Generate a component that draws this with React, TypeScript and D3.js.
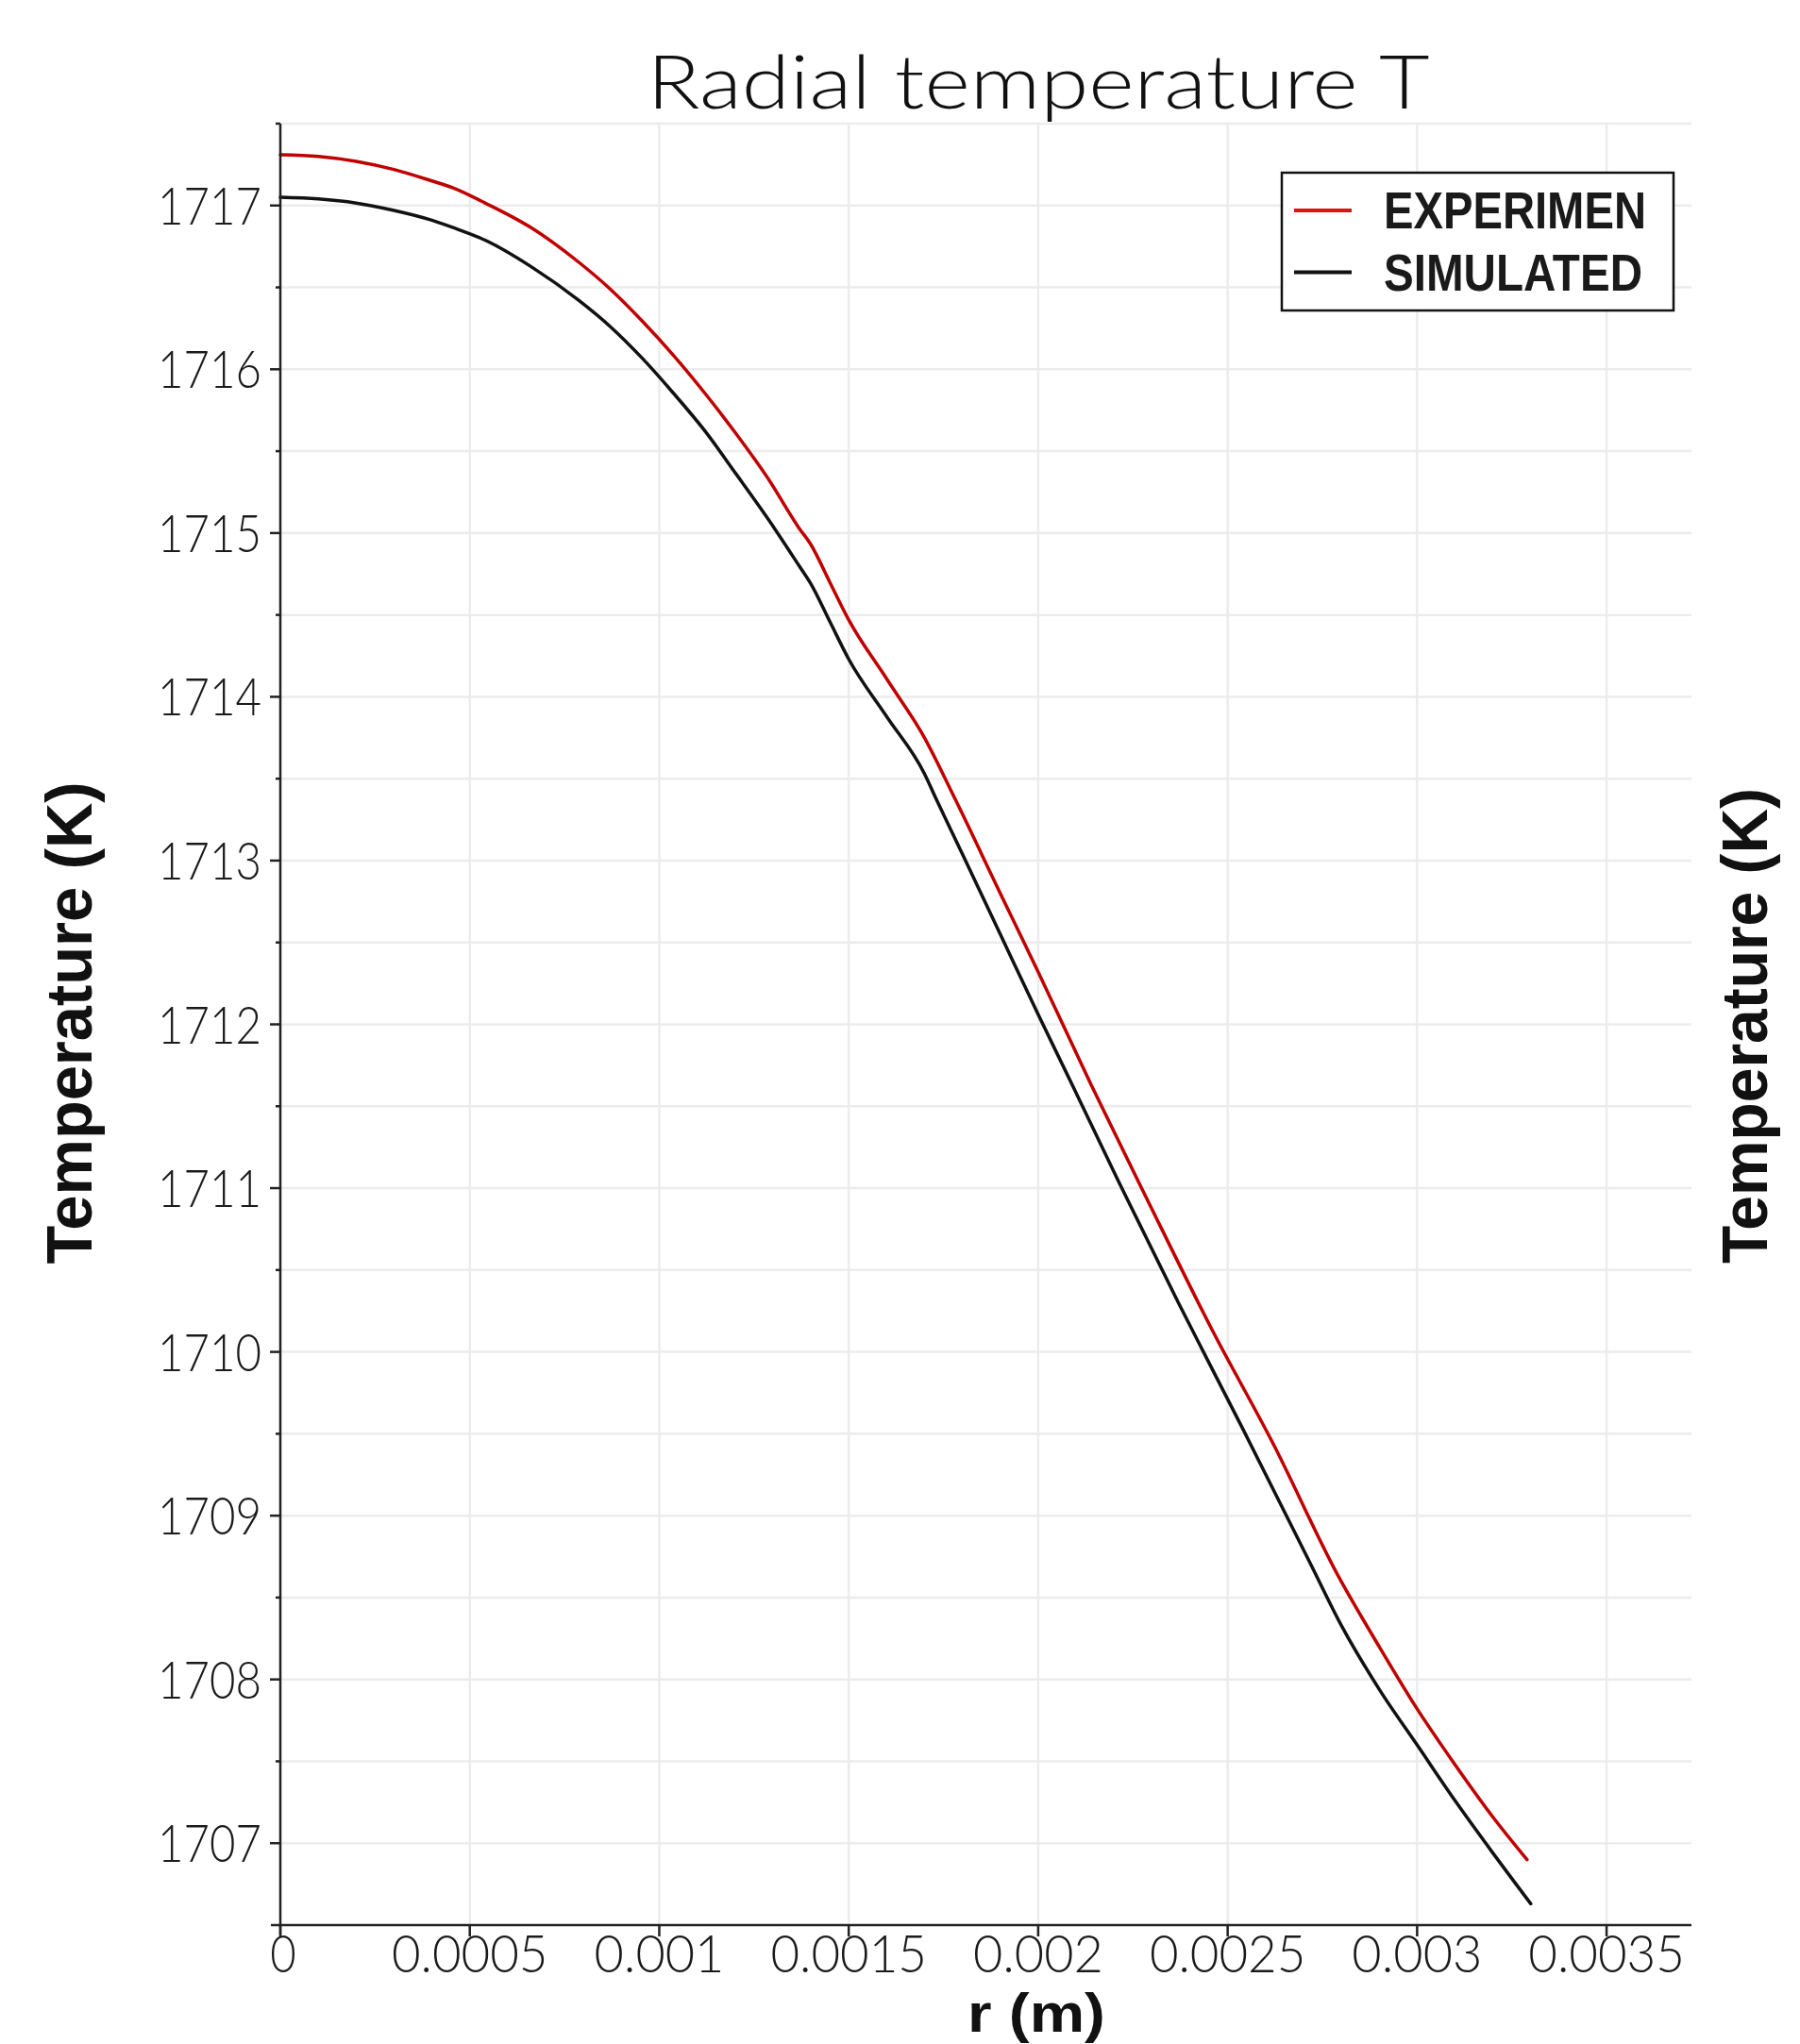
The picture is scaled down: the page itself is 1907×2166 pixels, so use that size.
import React from 'react';
import * as d3 from 'd3';

const W = 1907;
const H = 2166;

// EXPERIMEN curve: radius (m) and temperature (K)
const expR = [0, 0.0001, 0.0002, 0.0003, 0.0004, 0.000456, 0.000539, 0.000663, 0.000788, 0.000871,
  0.000954, 0.001037, 0.00112, 0.001203, 0.001286, 0.001369, 0.0014, 0.00145, 0.0015, 0.0016,
  0.0017, 0.00178, 0.0019, 0.002, 0.00214, 0.00229, 0.00246, 0.00262, 0.00279, 0.0029,
  0.003, 0.0031, 0.0032, 0.00329];
const expT = [1717.31, 1717.30, 1717.27, 1717.22, 1717.15, 1717.108, 1717.017, 1716.863, 1716.653, 1716.489,
  1716.297, 1716.086, 1715.855, 1715.606, 1715.337, 1715.03, 1714.93, 1714.70, 1714.47, 1714.11,
  1713.75, 1713.38, 1712.80, 1712.32, 1711.63, 1710.92, 1710.13, 1709.44, 1708.64, 1708.20,
  1707.82, 1707.48, 1707.16, 1706.90];

// SIMULATED curve
const simR = [0, 0.0001, 0.0002, 0.0003, 0.0004, 0.000456, 0.000539, 0.000663, 0.000788, 0.000871,
  0.000954, 0.001037, 0.00112, 0.001203, 0.001286, 0.001369, 0.0014, 0.00145, 0.0015, 0.0016,
  0.0017, 0.00173, 0.0018, 0.0019, 0.002, 0.00209, 0.00221, 0.00237, 0.00254, 0.00272,
  0.0028, 0.0029, 0.003, 0.0031, 0.0032, 0.0033];
const simT = [1717.05, 1717.04, 1717.015, 1716.97, 1716.91, 1716.865, 1716.79, 1716.625, 1716.42, 1716.26,
  1716.07, 1715.855, 1715.625, 1715.36, 1715.09, 1714.80, 1714.69, 1714.46, 1714.23, 1713.88,
  1713.53, 1713.38, 1713.04, 1712.55, 1712.06, 1711.63, 1711.05, 1710.30, 1709.53, 1708.70,
  1708.33, 1707.94, 1707.60, 1707.26, 1706.94, 1706.63];

const seriesNames = ['EXPERIMEN', 'SIMULATED'];
const seriesColors = ['#c00000', '#111111'];
const legendColors = ['#dd1414', '#111111'];

const xTicks = [0, 0.0005, 0.001, 0.0015, 0.002, 0.0025, 0.003, 0.0035];
const xTickLabels = ['0', '0.0005', '0.001', '0.0015', '0.002', '0.0025', '0.003', '0.0035'];
const yTicks = [1707, 1708, 1709, 1710, 1711, 1712, 1713, 1714, 1715, 1716, 1717];
const yTickLabels = ['1707', '1708', '1709', '1710', '1711', '1712', '1713', '1714', '1715', '1716', '1717'];

const titleText = 'Radial temperature T';
const xTitle = 'r (m)';
const yTitle = 'Temperature (K)';

// the tick font in the picture is narrow, so squeeze each label to its width
const labelWidth = (s: string) => s.split('').reduce((w, c) => w + (c === '.' ? 28 : 27.5), 0);

const thinFont = "Lato, 'Liberation Sans', sans-serif";
const boldFont = "'Liberation Sans', Arial, sans-serif";

export default function App() {
  const left = 297, right = 1792, top = 131, bottom = 2040;

  const x = d3.scaleLinear().domain([0, 0.003724]).range([left, right]);
  const y = d3.scaleLinear().domain([1706.5, 1717.5]).range([bottom, top]);

  const halfSteps = d3.range(1707, 1717.51, 0.5);

  const line = d3.line<[number, number]>()
    .x(d => x(d[0]))
    .y(d => y(d[1]))
    .curve(d3.curveMonotoneX);

  const series = [
    expR.map((r, i) => [r, expT[i]] as [number, number]),
    simR.map((r, i) => [r, simT[i]] as [number, number]),
  ];

  const axisColor = '#222';
  const gridColor = '#ececec';

  return (
    <svg width={W} height={H} style={{ position: 'absolute', left: 0, top: 0, background: '#fff' }}>
      <rect x={0} y={0} width={W} height={H} fill="#fff" />

      {/* grid */}
      <g stroke={gridColor} strokeWidth={2.5}>
        {halfSteps.map(v => (
          <line key={'gy' + v} x1={left} x2={right} y1={y(v)} y2={y(v)} />
        ))}
        {xTicks.slice(1).map(v => (
          <line key={'gx' + v} x1={x(v)} x2={x(v)} y1={top} y2={bottom} />
        ))}
      </g>

      {/* title */}
      <text x={1100} y={115} textAnchor="middle" fontFamily={thinFont} fontWeight={300}
        fontSize={78} fill="#111" textLength={829} lengthAdjust="spacingAndGlyphs">
        {titleText}
      </text>

      {/* curves */}
      {series.map((pts, i) => (
        <path key={seriesNames[i]} d={line(pts) || ''} fill="none" stroke={seriesColors[i]}
          strokeWidth={3.5} strokeLinejoin="round" strokeLinecap="round" />
      ))}

      {/* y axis */}
      <g stroke={axisColor} strokeWidth={2.5}>
        <line x1={left} x2={left} y1={top} y2={bottom + 10} />
        {yTicks.map(v => (
          <line key={'yt' + v} x1={left - 11} x2={left} y1={y(v)} y2={y(v)} />
        ))}
        {halfSteps.filter(v => v % 1 !== 0).map(v => (
          <line key={'ym' + v} x1={left - 5} x2={left} y1={y(v)} y2={y(v)} />
        ))}
      </g>
      {yTicks.map((v, i) => (
        <text key={'yl' + v} x={277} y={y(v) + 20} textAnchor="end" fontFamily={thinFont}
          fontWeight={300} fontSize={56} fill="#1a1a1a"
          textLength={labelWidth(yTickLabels[i])} lengthAdjust="spacingAndGlyphs">
          {yTickLabels[i]}
        </text>
      ))}

      {/* x axis */}
      <g stroke={axisColor} strokeWidth={2.5}>
        <line x1={left - 10} x2={right} y1={bottom} y2={bottom} />
        {xTicks.map(v => (
          <line key={'xt' + v} x1={x(v)} x2={x(v)} y1={bottom} y2={bottom + 12} />
        ))}
      </g>
      {xTicks.map((v, i) => (
        <text key={'xl' + v} x={x(v) + (v === 0 ? 3 : 0)} y={2090} textAnchor="middle"
          fontFamily={thinFont} fontWeight={300} fontSize={56} fill="#1a1a1a"
          textLength={labelWidth(xTickLabels[i])} lengthAdjust="spacingAndGlyphs">
          {xTickLabels[i]}
        </text>
      ))}

      {/* axis titles */}
      <text x={1098} y={2153} textAnchor="middle" fontFamily={boldFont} fontWeight="bold"
        fontSize={57} fill="#111" textLength={146} lengthAdjust="spacingAndGlyphs">
        {xTitle}
      </text>
      <text transform="translate(97,1084) rotate(-90)" textAnchor="middle" fontFamily={boldFont}
        fontWeight="bold" fontSize={68} fill="#111" textLength={511} lengthAdjust="spacingAndGlyphs">
        {yTitle}
      </text>
      <text transform="translate(1872,1087) rotate(-90)" textAnchor="middle" fontFamily={boldFont}
        fontWeight="bold" fontSize={68} fill="#111" textLength={504} lengthAdjust="spacingAndGlyphs">
        {yTitle}
      </text>

      {/* legend */}
      <g>
        <rect x={1358} y={183} width={415} height={146} fill="#fff" stroke="#111" strokeWidth={2.5} />
        {seriesNames.map((name, i) => (
          <g key={'lg' + name} transform={`translate(0, ${i * 65.5})`}>
            <line x1={1371} x2={1432} y1={223} y2={223} stroke={legendColors[i]} strokeWidth={4} />
            <text x={1466} y={242} fontFamily={boldFont} fontWeight="bold" fontSize={56} fill="#1a1a1a"
              textLength={i === 0 ? 278 : 274} lengthAdjust="spacingAndGlyphs">
              {name}
            </text>
          </g>
        ))}
      </g>
    </svg>
  );
}
